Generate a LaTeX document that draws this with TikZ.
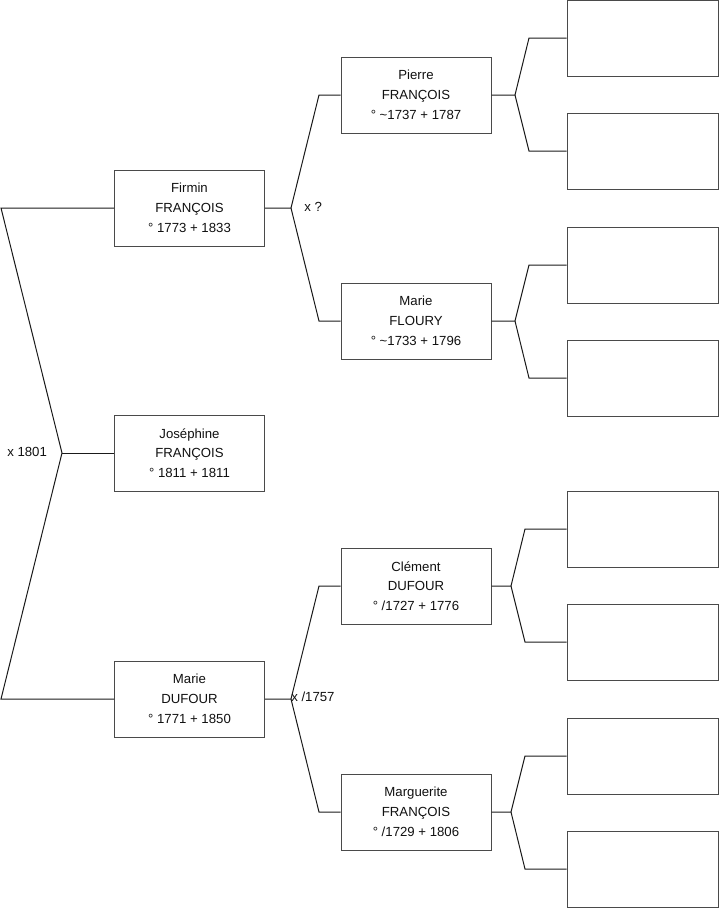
\documentclass[tikz,border=0pt]{standalone}
\usepackage{fontspec}
\setmainfont{Liberation Sans}
\usetikzlibrary{positioning,calc}
\definecolor{FTLine}{HTML}{1A1A1A}
\definecolor{FTBox}{HTML}{4A4A4A}
\definecolor{FTInk}{HTML}{111111}
\tikzset{
  link/.style={FTLine,line width=0.75pt},
  person/.style={draw=FTBox,line width=0.75pt,fill=white,text=FTInk,
                 minimum width=112.5pt,minimum height=57pt,inner sep=0pt,
                 align=center,font=\fontsize{9.9}{14.8}\selectfont},
  unknown/.style={person,minimum width=113.25pt},
  marriage/.style={text=FTInk,font=\fontsize{9.9}{11}\selectfont,anchor=west,inner sep=0pt},
}

\begin{document}
\begin{tikzpicture}[x=0.75pt,y=-0.75pt]
  \useasboundingbox (0,0) rectangle (719,908);
  % generation 1
  \node[person] (firmin) at (189.5,208) {Firmin\\FRANÇOIS\\° 1773 + 1833};
  \node[person] (josephine) at (189.5,453) {Joséphine\\FRANÇOIS\\° 1811 + 1811};
  \node[person] (mariedufour) at (189.5,699) {Marie\\DUFOUR\\° 1771 + 1850};
  % generation 2
  \node[person] (pierre) at (416,95) {Pierre\\FRANÇOIS\\° \textasciitilde1737 + 1787};
  \node[person] (floury) at (416,321) {Marie\\FLOURY\\° \textasciitilde1733 + 1796};
  \node[person] (clement) at (416,586) {Clément\\DUFOUR\\° /1727 + 1776};
  \node[person] (marguerite) at (416,812) {Marguerite\\FRANÇOIS\\° /1729 + 1806};
  % generation 3, still empty
  \foreach \n/\y in {g1/38,g2/151,g3/265,g4/378,g5/529,g6/642,g7/756,g8/869}{
    \node[unknown] (\n) at (642.5,\y) {};
  }

  % child to parents
  \coordinate (k0) at (62,453);
  \draw[link] (firmin.west) -- (1,208) -- (k0) -- (1,699) -- (mariedufour.west);
  \draw[link] (k0) -- (josephine.west);
  \node[marriage] (m0) at (7,452) {x 1801};

  \coordinate (k1) at (291,208);
  \draw[link] (firmin.east) -- (k1) -- (319,95) -- (pierre.west);
  \draw[link] (k1) -- (319,321) -- (floury.west);
  \node[marriage] (m1) at (304,207) {x ?};

  \coordinate (k2) at (291,699);
  \draw[link] (mariedufour.east) -- (k2) -- (319,586) -- (clement.west);
  \draw[link] (k2) -- (319,812) -- (marguerite.west);
  \node[marriage] (m2) at (291,697) {x /1757};

  \coordinate (k3) at (515,95);
  \draw[link] (pierre.east) -- (k3) -- (529,38) -- (g1.west);
  \draw[link] (k3) -- (529,151) -- (g2.west);
  \coordinate (k4) at (515,321);
  \draw[link] (floury.east) -- (k4) -- (529,265) -- (g3.west);
  \draw[link] (k4) -- (529,378) -- (g4.west);
  \coordinate (k5) at (511,586);
  \draw[link] (clement.east) -- (k5) -- (525,529) -- (g5.west);
  \draw[link] (k5) -- (525,642) -- (g6.west);
  \coordinate (k6) at (511,812);
  \draw[link] (marguerite.east) -- (k6) -- (525,756) -- (g7.west);
  \draw[link] (k6) -- (525,869) -- (g8.west);
\end{tikzpicture}
\end{document}
